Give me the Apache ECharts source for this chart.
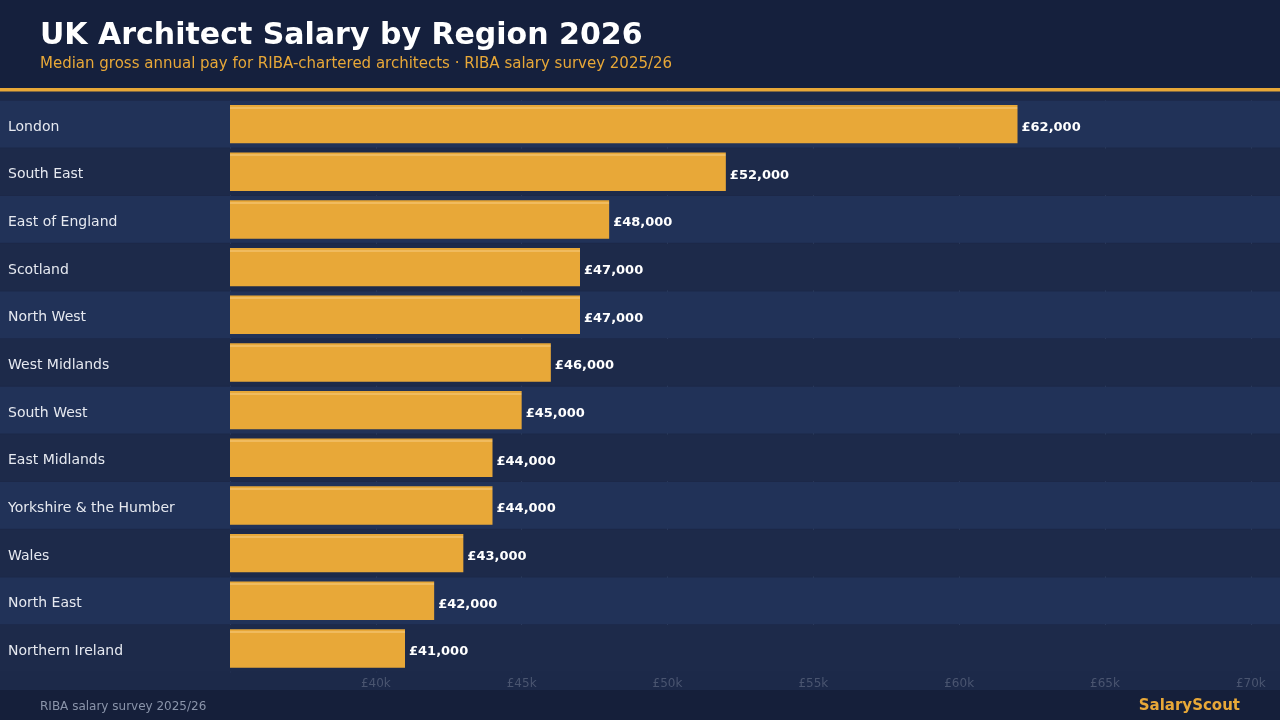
<!DOCTYPE html>
<html>
<head>
<meta charset="utf-8">
<script src="https://cdn.jsdelivr.net/npm/echarts@6/dist/echarts.min.js"></script>
<style>
html,body{margin:0;padding:0;background:#1c2949;}
#chart{width:1280px;height:720px;}
</style>
</head>
<body>
<div id="chart"></div>
<script>
const regions = ["London","South East","East of England","Scotland","North West","West Midlands","South West","East Midlands","Yorkshire & the Humber","Wales","North East","Northern Ireland"];
const salaries = [62000,52000,48000,47000,47000,46000,45000,44000,44000,43000,42000,41000];
const axisMin = 35000, axisMax = 71000, axisStep = 5000;
const bandValues = regions.map(() => 1);

const chart = echarts.init(document.getElementById('chart'));
const FONT = 'DejaVu Sans';
const gridTop = 100.3, gridHeight = 572;

chart.setOption({
  backgroundColor: '#1c2949',
  animation: false,
  title: [
    { text: 'UK Architect Salary by Region 2026', left: 40, top: 21.5, padding: 0,
      textStyle: { color: '#ffffff', fontSize: 30, fontWeight: 'bold', fontFamily: FONT } },
    { text: 'Median gross annual pay for RIBA-chartered architects · RIBA salary survey 2025/26', left: 40, top: 56.5, padding: 0,
      textStyle: { color: '#e8a838', fontSize: 15, fontWeight: 'normal', fontFamily: FONT } },
    { text: 'RIBA salary survey 2025/26', left: 40, top: 701, padding: 0,
      textStyle: { color: '#8a94aa', fontSize: 12, fontWeight: 'normal', fontFamily: FONT } },
    { text: 'SalaryScout', right: 40, top: 699, padding: 0,
      textStyle: { color: '#e8a838', fontSize: 15, fontWeight: 'bold', fontFamily: FONT } }
  ],
  graphic: [
    { type: 'rect', z: -10, shape: { x: 0, y: 0, width: 1280, height: 88 }, style: { fill: '#15203d' } },
    { type: 'rect', z: -10, shape: { x: 0, y: 88, width: 1280, height: 3.5 }, style: { fill: '#e8a838' } },
    { type: 'rect', z: -10, shape: { x: 0, y: 690, width: 1280, height: 30 }, style: { fill: '#151f3a' } }
  ],
  grid: [
    { left: 0, right: 0, top: gridTop, height: gridHeight },
    { left: 230, right: 0, top: gridTop, height: gridHeight }
  ],
  xAxis: [
    { gridIndex: 0, type: 'value', min: 0, max: 1, show: false },
    { gridIndex: 1, type: 'value', min: axisMin, max: axisMax, interval: axisStep,
      axisLine: { show: false }, axisTick: { show: false },
      splitLine: { show: true, lineStyle: { color: 'rgba(140,160,200,0.18)', width: 1 } },
      axisLabel: { color: '#4a5570', fontSize: 12, fontFamily: FONT, margin: 6,
        showMinLabel: false, showMaxLabel: false,
        formatter: v => (v === axisMax || v === axisMin) ? '' : '£' + (v / 1000) + 'k' } }
  ],
  yAxis: [
    { gridIndex: 0, type: 'category', data: regions, inverse: true, show: false },
    { gridIndex: 1, type: 'category', data: regions, inverse: true, z: 10,
      axisLine: { show: false }, axisTick: { show: false }, splitLine: { show: false },
      axisLabel: { align: 'left', margin: 222,
        formatter: v => '{r|' + v + '}',
        rich: { r: { color: '#e6e9f0', fontSize: 14, fontFamily: FONT, padding: [6, 0, 0, 0] } } } }
  ],
  series: [
    { type: 'bar', xAxisIndex: 0, yAxisIndex: 0, data: bandValues, barWidth: '98%', z: 1,
      silent: true,
      itemStyle: { color: p => p.dataIndex % 2 === 0 ? '#213258' : '#1d2a4a' } },
    { type: 'bar', xAxisIndex: 1, yAxisIndex: 1, data: salaries, barWidth: '80.5%', z: 3,
      itemStyle: {
        color: { type: 'linear', x: 0, y: 0, x2: 0, y2: 1, colorStops: [
          { offset: 0, color: '#e8a838' }, { offset: 0.045, color: '#e8a838' },
          { offset: 0.045, color: '#f0bb5e' }, { offset: 0.095, color: '#f0bb5e' },
          { offset: 0.095, color: '#e8a838' }, { offset: 1, color: '#e8a838' } ] }
      },
      label: { show: true, position: 'right', distance: 4, offset: [0, 3.5], color: '#ffffff', fontSize: 13,
        fontWeight: 'bold', fontFamily: FONT,
        formatter: p => '£' + p.value.toLocaleString('en-GB') } }
  ]
});
</script>
</body>
</html>
